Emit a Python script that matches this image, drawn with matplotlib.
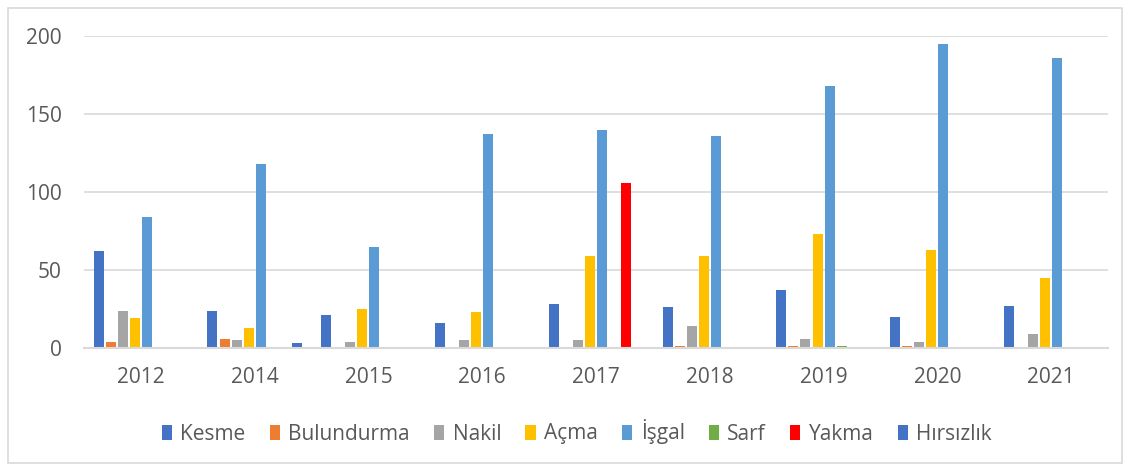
import matplotlib
matplotlib.use("Agg")
import matplotlib.pyplot as plt
import numpy as np
from matplotlib.patches import Rectangle

years = ["2012", "2014", "2015", "2016", "2017", "2018", "2019", "2020", "2021"]
series_names = ["Kesme", "Bulundurma", "Nakil", "Açma", "İşgal", "Sarf", "Yakma", "Hırsızlık"]
kesme      = [62, 24, 21, 16, 28, 26, 37, 20, 27]
bulundurma = [4, 6, 0, 0, 0, 1, 1, 1, 0]
nakil      = [24, 5, 4, 5, 5, 14, 6, 4, 9]
acma       = [19, 13, 25, 23, 59, 59, 73, 63, 45]
isgal      = [84, 118, 65, 137, 140, 136, 168, 195, 186]
sarf       = [0, 0, 0, 0, 0, 0, 1, 0, 0]
yakma      = [0, 0, 0, 0, 106, 0, 0, 0, 0]
hirsizlik  = [0, 3, 0, 0, 0, 0, 0, 0, 0]
series = [kesme, bulundurma, nakil, acma, isgal, sarf, yakma, hirsizlik]
colors = ["#4472C4", "#ED7D31", "#A5A5A5", "#FFC000", "#5B9BD5", "#70AD47", "#FF0000", "#4472C4"]

plt.rcParams['font.family'] = ['Open Sans', 'DejaVu Sans']

fig = plt.figure(figsize=(11.31, 4.71), dpi=100)
ax = fig.add_axes([84/1131, 1-348/471, (1108-84)/1131, (348-36)/471])

x = np.arange(len(years))
n = len(series)
step = 0.106
w = 0.088
for i, (vals, c, name) in enumerate(zip(series, colors, series_names)):
    ax.bar(x + (i - (n-1)/2) * step, vals, width=w, color=c, linewidth=0,
           label=name, zorder=3)

ax.set_xlim(-0.5, len(years) - 0.5)
ax.set_ylim(0, 200)
ax.set_yticks([0, 50, 100, 150, 200])
ax.set_xticks(x)
ax.set_xticklabels(years)
ax.tick_params(axis="both", length=0, labelsize=15, colors="#595959")
ax.tick_params(axis="y", pad=16)
ax.tick_params(axis="x", pad=14)
ax.yaxis.grid(True, color="#D9D9D9", linewidth=1.2, zorder=0)
for s in ["left", "right", "top"]:
    ax.spines[s].set_visible(False)
ax.spines["bottom"].set_color("#D9D9D9")
ax.spines["bottom"].set_linewidth(1.5)
ax.spines["bottom"].set_zorder(4)

leg = fig.legend(loc="center", bbox_to_anchor=(0.51, 1-432/471), ncol=8, frameon=False,
                 fontsize=15, handlelength=0.5, handleheight=0.7, handletextpad=0.4,
                 columnspacing=1.15, labelcolor="#595959")

fig.patches.append(Rectangle((8/1131, 8/471), 1114/1131, 455/471, transform=fig.transFigure,
                             fill=False, edgecolor="#D9D9D9", linewidth=1.2))

fig.savefig("out.png", dpi=100)
